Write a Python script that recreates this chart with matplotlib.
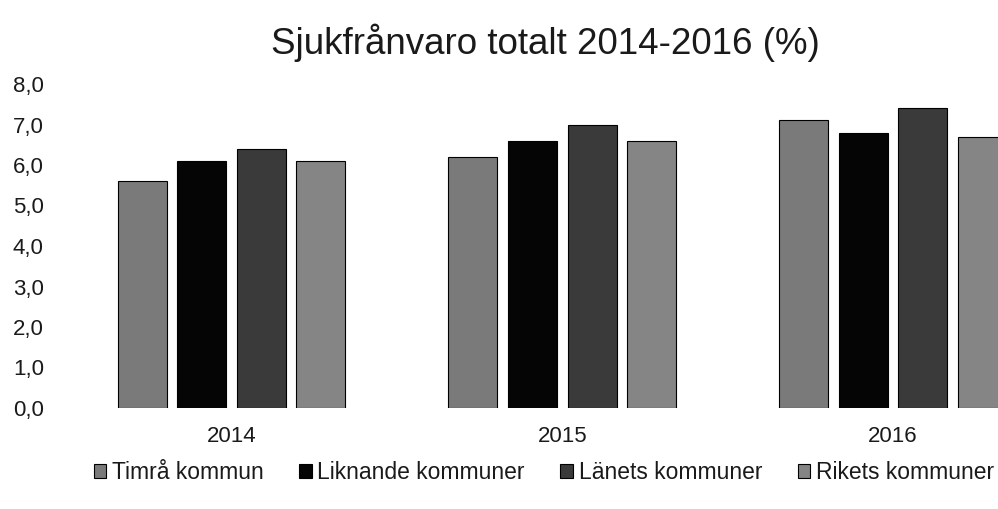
import numpy as np
import matplotlib
matplotlib.use("Agg")
import matplotlib.pyplot as plt

plt.rcParams['font.family'] = ['Liberation Sans', 'DejaVu Sans']

# --- data ---
years = ['2014', '2015', '2016']
serier = ['Timrå kommun', 'Liknande kommuner', 'Länets kommuner', 'Rikets kommuner']
timra = [5.6, 6.2, 7.1]
liknande = [6.1, 6.6, 6.8]
lanets = [6.4, 7.0, 7.4]
rikets = [6.1, 6.6, 6.7]
yticks = [0, 1, 2, 3, 4, 5, 6, 7, 8]

varden = [timra, liknande, lanets, rikets]
farger = ['#7a7a7a', '#050505', '#3a3a3a', '#858585']

fig = plt.figure(figsize=(9.98, 5.09), dpi=100)
ax = fig.add_axes([66 / 998, 1 - 408 / 509, 1 - 66 / 998, 324 / 509])

x = np.arange(len(years))
steg = 0.18
bredd = 0.148
for i, (namn, v, c) in enumerate(zip(serier, varden, farger)):
    ax.bar(x + (i - 1.5) * steg, v, width=bredd, color=c, edgecolor='black',
           linewidth=0.8, label=namn)

ax.set_xlim(-0.5, 2.317)
ax.set_ylim(0, 8)
ax.set_yticks(yticks)
ax.set_yticklabels([f'{t:.1f}'.replace('.', ',') for t in yticks], fontsize=16)
ax.set_xticks(x)
ax.set_xticklabels(years, fontsize=16)
ax.tick_params(axis='both', length=0, colors='#1a1a1a')
ax.tick_params(axis='y', pad=16)
ax.tick_params(axis='x', pad=13)
for s in ax.spines.values():
    s.set_visible(False)

fig.text(0.546, 0.915, 'Sjukfrånvaro totalt 2014-2016 (%)', ha='center', va='center',
         fontsize=26.5, color='#1a1a1a')

fig.legend(loc='center', bbox_to_anchor=(0.545, 0.072), ncol=4, frameon=False,
           fontsize=16.5, handlelength=0.55, handleheight=0.55, handletextpad=0.25,
           columnspacing=1.55, labelcolor='#1a1a1a')

plt.savefig('out.png', dpi=100)
